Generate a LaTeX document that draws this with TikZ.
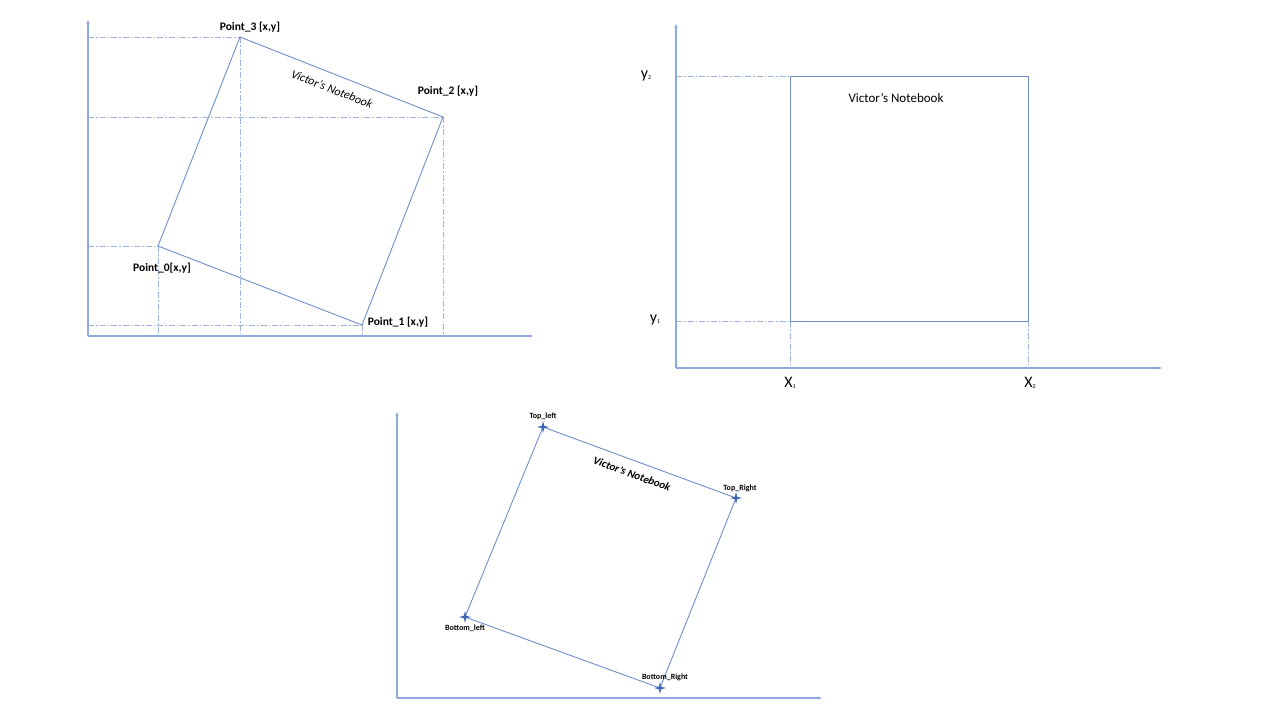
\documentclass[tikz,border=0pt]{standalone}
\usepackage{fontspec}
\setmainfont{Carlito}
\usetikzlibrary{arrows.meta,calc}
\definecolor{axisc}{HTML}{8EA9DB}
\definecolor{edgec}{HTML}{6F8FCB}
\definecolor{dashc}{HTML}{9DB4E0}
\definecolor{starc}{HTML}{3F66B0}
\tikzset{
  axis/.style={draw=axisc, line width=1.1pt, -{Triangle[length=4pt,width=3pt]}},
  edge/.style={draw=edgec, line width=0.9pt},
  guide/.style={draw=dashc, line width=0.8pt, dash pattern=on 6pt off 2pt on 1.5pt off 2pt},
  ptlabel/.style={font=\bfseries\fontsize{11.5}{13}\selectfont, text=black, inner sep=0pt},
  smlabel/.style={font=\bfseries\fontsize{8}{9}\selectfont, text=black, inner sep=0pt},
  axlabel/.style={font=\fontsize{16}{17}\selectfont, text=black, inner sep=0pt},
  title/.style={text=black, inner sep=0pt},
}
\newcommand{\tinysub}[1]{\raisebox{-0.5pt}{\fontsize{6}{6}\selectfont #1}}
\newcommand{\starmark}[1]{\fill[starc] ($(#1)+(0,-6)$) -- ($(#1)+(1.2,-1.2)$) -- ($(#1)+(6,0)$) -- ($(#1)+(1.2,1.2)$) -- ($(#1)+(0,6)$) -- ($(#1)+(-1.2,1.2)$) -- ($(#1)+(-6,0)$) -- ($(#1)+(-1.2,-1.2)$) -- cycle;}
\begin{document}
\begin{tikzpicture}[x=1pt,y=-1pt]
\useasboundingbox[fill=white] (0,0) rectangle (1280,720);

% ---------- Diagram 1 ----------
\coordinate (o1) at (88,336);
\coordinate (y1top) at (88,20);
\coordinate (x1end) at (533,336);
\coordinate (p0) at (158,246);
\coordinate (p1) at (362,325);
\coordinate (p2) at (443,117);
\coordinate (p3) at (240,37);
\coordinate (p0x) at (88,246);
\coordinate (p1x) at (88,325);
\coordinate (p2x) at (88,117);
\coordinate (p3x) at (88,37);
\coordinate (p0b) at (158,336);
\coordinate (p1b) at (362,336);
\coordinate (p2b) at (443,336);
\coordinate (p3b) at (240,336);
\draw[guide] (p3x) -- (p3);
\draw[guide] (p2x) -- (p2);
\draw[guide] (p0x) -- (p0);
\draw[guide] (p1x) -- (p1);
\draw[guide] (p0) -- (p0b);
\draw[guide] (p3) -- (p3b);
\draw[guide] (p1) -- (p1b);
\draw[guide] (p2) -- (p2b);
\draw[axis] (o1) -- (y1top);
\draw[axis] (o1) -- (x1end);
\draw[edge] (p0) -- (p1) -- (p2) -- (p3) -- cycle;
\node[ptlabel] (l3) at (250,27) {Point\_3 [x,y]};
\node[ptlabel] (l2) at (448,91) {Point\_2 [x,y]};
\node[ptlabel] (l0) at (162,268) {Point\_0[x,y]};
\node[ptlabel] (l1) at (398,322) {Point\_1 [x,y]};
\node[title, font=\itshape\fontsize{12}{13}\selectfont, rotate=-21.5] (t1) at (332,89) {Victor’s Notebook};

% ---------- Diagram 2 ----------
\coordinate (o2) at (676,368);
\coordinate (y2top) at (676,24);
\coordinate (x2end) at (1162,368);
\coordinate (r1) at (790,321);
\coordinate (r2) at (1028,321);
\coordinate (r3) at (1028,76);
\coordinate (r4) at (790,76);
\coordinate (r4x) at (676,76);
\coordinate (r1x) at (676,321);
\coordinate (r1b) at (790,368);
\coordinate (r2b) at (1028,368);
\draw[guide] (r4x) -- (r4);
\draw[guide] (r1x) -- (r1);
\draw[guide] (r1) -- (r1b);
\draw[guide] (r2) -- (r2b);
\draw[axis] (o2) -- (y2top);
\draw[axis] (o2) -- (x2end);
\draw[edge] (r1) -- (r2) -- (r3) -- (r4) -- cycle;
\node[axlabel] (ly2) at (646,76) {y\tinysub{2}};
\node[axlabel] (ly1) at (655,320) {y\tinysub{1}};
\node[axlabel] (lx1) at (790,383) {X\tinysub{1}};
\node[axlabel] (lx2) at (1030,383) {X\tinysub{2}};
\node[title, font=\fontsize{13}{15}\selectfont] (t2) at (896,98) {Victor’s Notebook};

% ---------- Diagram 3 ----------
\coordinate (o3) at (397,698);
\coordinate (y3top) at (397,412);
\coordinate (x3end) at (822,698);
\coordinate (tl) at (543,427);
\coordinate (tr) at (736,498);
\coordinate (br) at (660,688);
\coordinate (bl) at (465,617);
\draw[axis] (o3) -- (y3top);
\draw[axis] (o3) -- (x3end);
\draw[edge] (tl) -- (tr) -- (br) -- (bl) -- cycle;
\starmark{tl}
\starmark{tr}
\starmark{br}
\starmark{bl}
\node[smlabel] (ltl) at (543,416) {Top\_left};
\node[smlabel] (ltr) at (740,488) {Top\_Right};
\node[smlabel] (lbl) at (465,628) {Bottom\_left};
\node[smlabel] (lbr) at (665,677) {Bottom\_Right};
\node[title, font=\bfseries\itshape\fontsize{11}{12}\selectfont, rotate=-20.2] (t3) at (632,474) {Victor’s Notebook};
\end{tikzpicture}
\end{document}
